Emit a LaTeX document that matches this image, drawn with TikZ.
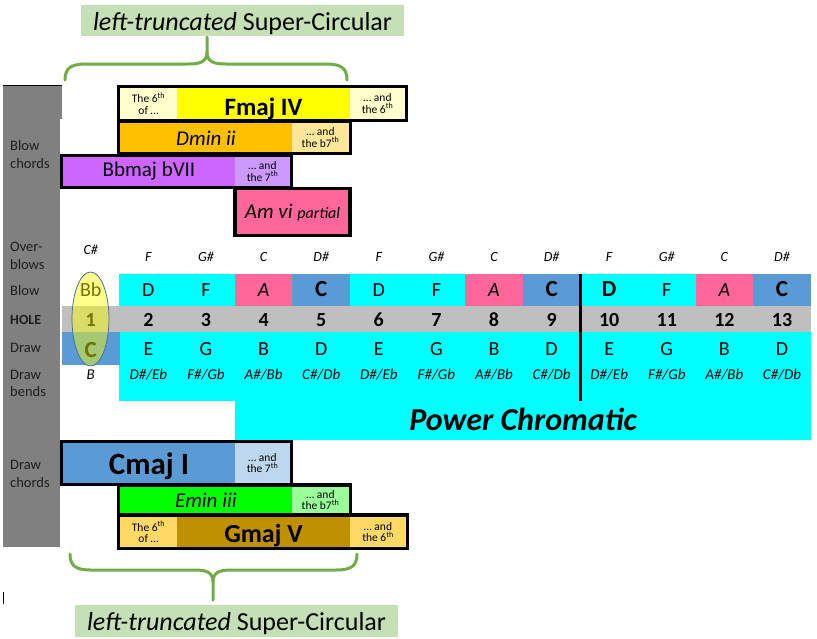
\documentclass[tikz,border=0pt]{standalone}
\usepackage{fontspec}
\setmainfont{Carlito}
\definecolor{cyanc}{HTML}{00FFFF}
\definecolor{pinkc}{HTML}{FF6699}
\definecolor{bluec}{HTML}{5B9BD5}
\definecolor{holeg}{HTML}{BFBFBF}
\definecolor{barg}{HTML}{808080}
\definecolor{lbltxt}{HTML}{1F1F1F}
\definecolor{fyel}{HTML}{FFFF00}
\definecolor{fyell}{HTML}{FFFFCC}
\definecolor{dorg}{HTML}{FFC000}
\definecolor{dorgl}{HTML}{FFE699}
\definecolor{bpur}{HTML}{CC66FF}
\definecolor{bpurl}{HTML}{CC99FF}
\definecolor{cblul}{HTML}{BDD7EE}
\definecolor{egrn}{HTML}{00FF00}
\definecolor{egrnl}{HTML}{99FF99}
\definecolor{ggold}{HTML}{BF9000}
\definecolor{ggoldl}{HTML}{FFD966}
\definecolor{bracec}{HTML}{70AD47}
\definecolor{labelbg}{HTML}{C5E0B4}
\definecolor{ellline}{HTML}{41719C}
\tikzset{
  lbl/.style={anchor=base west, align=left, text=lbltxt, inner sep=0pt, font=\fontsize{14.5}{17.6}\selectfont},
  lblb/.style={lbl, font=\fontsize{14}{16}\selectfont\bfseries},
  ob/.style={anchor=base, inner sep=0pt, font=\fontsize{14}{16}\selectfont\itshape},
  nt/.style={anchor=base, inner sep=0pt, font=\fontsize{20}{24}\selectfont},
  nti/.style={anchor=base, inner sep=0pt, font=\fontsize{20}{24}\selectfont\itshape},
  ntb/.style={anchor=base, inner sep=0pt, font=\fontsize{23}{26}\selectfont\bfseries},
  holen/.style={anchor=base, inner sep=0pt, font=\fontsize{20}{24}\selectfont\bfseries},
  bendt/.style={anchor=base, inner sep=0pt, font=\fontsize{15}{18}\selectfont\itshape},
  smallt/.style={align=center, inner sep=0pt, font=\fontsize{11.5}{11.7}\selectfont},
  chordt/.style={anchor=base, inner sep=0pt},
  bracel/.style={draw=bracec, line width=3pt, line cap=round, line join=round}
}
\begin{document}
\begin{tikzpicture}[x=1pt,y=-1pt]
\useasboundingbox (0,0) rectangle (817,638);
% left grey bar
\fill[barg] (3,86) rectangle (62,119);
\fill[barg] (3,86) rectangle (60,547);
\draw[line width=1.3pt] (3,85.6) -- (62,85.6);
% labels in bar (base = last line)
\node[lbl] (lblbc) at (10,168.3) {Blow\\chords};
\node[lbl] (lblob) at (10,269.3) {Over-\\blows};
\node[lbl] (lblbl) at (10,295) {Blow};
\node[lblb] (lblho) at (10,324.3) {HOLE};
\node[lbl] (lbldr) at (10,352.7) {Draw};
\node[lbl] (lbldb) at (10,396.7) {Draw\\bends};
\node[lbl] (lbldc) at (10,487) {Draw\\chords};
% table backgrounds
\fill[cyanc] (119,274) rectangle (811,401);
\fill[cyanc] (235,274) rectangle (811,440);
\fill[holeg] (62,306) rectangle (811,332);
\fill[bluec] (62,332) rectangle (119.6,365);
\foreach \i in {4,8,12} \fill[pinkc] ({62+(\i-1)*57.6},274) rectangle ({62+\i*57.6},306);
\foreach \i in {5,9,13} \fill[bluec] ({62+(\i-1)*57.6},274) rectangle ({62+\i*57.6},306);
\draw[line width=3.3pt] (580.4,274) -- (580.4,401);
% overblows
\node[ob] (ob1) at (90.8,254) {C\#};
\foreach \i/\n in {2/F,3/G\#,4/C,5/D\#,6/F,7/G\#,8/C,9/D\#,10/F,11/G\#,12/C,13/D\#}
  \node[ob] (ob\i) at ({62+(\i-0.5)*57.6},261.7) {\n};
% blow
\node[nt] (bl1) at (90.8,296.7) {Bb};
\foreach \i/\n/\s in {2/D/nt,3/F/nt,4/A/nti,5/C/ntb,6/D/nt,7/F/nt,8/A/nti,9/C/ntb,10/D/ntb,11/F/nt,12/A/nti,13/C/ntb}
  \node[\s] (bl\i) at ({62+(\i-0.5)*57.6},296.7) {\n};
% hole numbers
\foreach \i in {1,...,13}
  \node[holen] (ho\i) at ({62+(\i-0.5)*57.6},326.5) {\i};
% draw
\node[ntb] (dr1) at (90.8,357) {C};
\foreach \i/\n in {2/E,3/G,4/B,5/D,6/E,7/G,8/B,9/D,10/E,11/G,12/B,13/D}
  \node[nt] (dr\i) at ({62+(\i-0.5)*57.6},355) {\n};
% bends
\node[bendt] (be1) at (90.8,379) {B};
\foreach \i/\n in {2/{D\#/Eb},3/{F\#/Gb},4/{A\#/Bb},5/{C\#/Db},6/{D\#/Eb},7/{F\#/Gb},8/{A\#/Bb},9/{C\#/Db},10/{D\#/Eb},11/{F\#/Gb},12/{A\#/Bb},13/{C\#/Db}}
  \node[bendt] (be\i) at ({62+(\i-0.5)*57.6},379) {\n};
% ellipse over hole 1
\filldraw[fill=fyel, fill opacity=0.45, draw=ellline, line width=0.8pt] (90.5,319) ellipse (18.5 and 47);
% Power Chromatic
\node[chordt, font=\fontsize{32}{36}\selectfont\bfseries\itshape] (pc) at (523,430) {Power Chromatic};

% ---- top chords ----
% Fmaj IV
\fill[black] (117,85) rectangle (408,122);
\fill[fyell] (120,88) rectangle (177,119);
\fill[fyel] (177,88) rectangle (350,119);
\fill[fyell] (350,88) rectangle (405,119);
\node[smallt] (fl) at (148.5,103.5) {The 6\textsuperscript{th}\\of …};
\node[chordt, font=\fontsize{25}{28}\selectfont\bfseries] (fmaj) at (263.5,115) {Fmaj IV};
\node[smallt] (fr) at (377.5,103.5) {… and\\the 6\textsuperscript{th}};
% Dmin ii
\fill[black] (117,120) rectangle (352,155);
\fill[dorg] (120,123) rectangle (292,152);
\fill[dorgl] (292,123) rectangle (349,152);
\node[chordt, font=\fontsize{21}{24}\selectfont\itshape] (dmin) at (206,145) {Dmin ii};
\node[smallt] (dr) at (320.5,137.5) {… and\\the b7\textsuperscript{th}};
% Bbmaj bVII
\fill[black] (60,154) rectangle (293,189);
\fill[bpur] (63,157) rectangle (235,186);
\fill[bpurl] (235,157) rectangle (290,186);
\node[chordt, font=\fontsize{21}{24}\selectfont] (bbmaj) at (149,176.7) {Bbmaj bVII};
\node[smallt] (br) at (262.5,171.5) {… and\\the 7\textsuperscript{th}};
% Am vi
\fill[black] (233,187) rectangle (352,237);
\fill[pinkc] (237,190) rectangle (348,234);
\node[chordt, font=\fontsize{21}{24}\selectfont\itshape] (amvi) at (292.5,218) {Am vi {\fontsize{16}{18}\selectfont partial}};

% ---- bottom chords ----
% Cmaj I
\fill[black] (60,440) rectangle (293,486);
\fill[bluec] (63,443) rectangle (235,483);
\fill[cblul] (235,443) rectangle (290,483);
\node[chordt, font=\fontsize{31}{34}\selectfont\bfseries] (cmaj) at (149,474) {Cmaj I};
\node[smallt] (cr) at (262.5,463) {… and\\the 7\textsuperscript{th}};
% Emin iii
\fill[black] (117,483) rectangle (352,516);
\fill[egrn] (120,487) rectangle (292,513);
\fill[egrnl] (292,487) rectangle (349,513);
\node[chordt, font=\fontsize{21}{24}\selectfont\itshape] (emin) at (206,507) {Emin iii};
\node[smallt] (er) at (320.5,500) {… and\\the b7\textsuperscript{th}};
% Gmaj V
\fill[black] (117,513) rectangle (409,550);
\fill[ggoldl] (120,517) rectangle (177,547);
\fill[ggold] (177,517) rectangle (350,547);
\fill[ggoldl] (350,517) rectangle (406,547);
\node[smallt] (gl) at (148.5,532) {The 6\textsuperscript{th}\\of …};
\node[chordt, font=\fontsize{26}{28}\selectfont\bfseries] (gmaj) at (263.5,542.7) {Gmaj V};
\node[smallt] (gr) at (378,532) {… and\\the 6\textsuperscript{th}};

% ---- braces and labels ----
\fill[labelbg] (81,5) rectangle (404,36);
\node[chordt, font=\fontsize{26}{30}\selectfont] (toplbl) at (242.5,30) {\textit{left-truncated} Super-Circular};
\draw[bracel] (65,80) .. controls (65,68) and (71,64) .. (86,64) -- (188,64)
  .. controls (200,64) and (207,62) .. (207,52) -- (207,37);
\draw[bracel] (207,52) .. controls (207,62) and (214,64) .. (226,64) -- (326,64)
  .. controls (341,64) and (347,68) .. (347,80);
\fill[labelbg] (75,605) rectangle (398,637);
\node[chordt, font=\fontsize{26}{30}\selectfont] (botlbl) at (236.5,630) {\textit{left-truncated} Super-Circular};
\draw[bracel] (70,554) .. controls (70,566) and (76,570) .. (91,570) -- (195,570)
  .. controls (206,570) and (213,572) .. (213,582) -- (213,600);
\draw[bracel] (213,582) .. controls (213,572) and (220,570) .. (231,570) -- (336,570)
  .. controls (351,570) and (357,566) .. (357,554);
% cursor mark
\draw[line width=1.2pt] (3.5,592) -- (3.5,604);
\end{tikzpicture}
\end{document}
